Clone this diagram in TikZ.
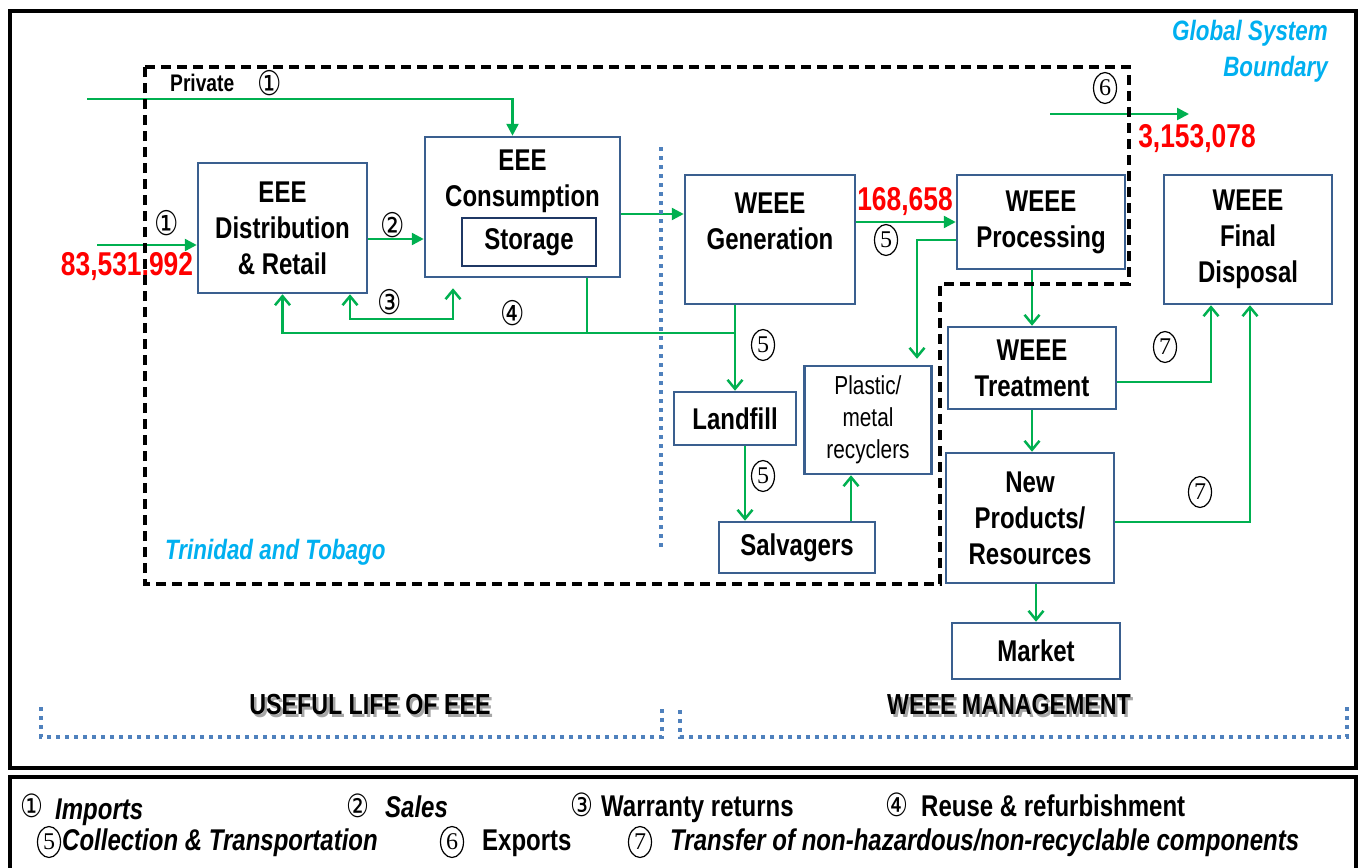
\documentclass[tikz,border=0pt]{standalone}
\usepackage{fontspec}
\setmainfont{Liberation Sans}[FakeStretch=0.8]
\newfontfamily\circfont{DejaVu Sans}[FakeStretch=0.8]
\newfontfamily\serifnum{Liberation Serif}
\usepackage{tikz}
\usetikzlibrary{arrows.meta,shapes.geometric}

\definecolor{boxblue}{HTML}{3A5F8F}
\definecolor{storeblue}{HTML}{1F3864}
\definecolor{flowgreen}{HTML}{00B050}
\definecolor{dotblue}{HTML}{4F81BD}
\definecolor{tagcyan}{HTML}{00B0F0}

\newcommand\stagefont{\fontsize{30}{36}\selectfont\bfseries}
\newcommand\recyfont{\fontsize{26}{32}\selectfont}
\newcommand\legfont{\fontsize{30}{32}\selectfont\bfseries}

\tikzset{
  tri/.tip={Triangle[length=12pt,width=12pt]},
  barb/.tip={Straight Barb[length=9pt,width=15pt,line width=2.5pt]},
  stage/.style={draw=boxblue, line width=2.5pt, fill=white, align=center, font=\stagefont, inner sep=0pt},
  stagetext/.style={align=center, font=\stagefont, inner sep=0pt},
  storebox/.style={draw=storeblue, line width=2pt, fill=white, font=\stagefont, inner sep=0pt},
  greenline/.style={draw=flowgreen, line width=2.5pt},
  flow/.style={greenline, -tri},
  flowopen/.style={greenline, -barb},
  boundary/.style={black, line width=3.5pt, dash pattern=on 10pt off 6pt},
  dotline/.style={dotblue, line width=3.5pt, dash pattern=on 4pt off 5pt},
  amount/.style={text=red, font=\fontsize{33}{36}\selectfont\bfseries, inner sep=0pt},
  circnum/.style={font=\circfont\fontsize{34}{34}\selectfont, inner sep=0pt},
  ovalnum/.style={ellipse, draw, line width=1.2pt, inner sep=0pt, minimum width=23pt, minimum height=31pt, font=\serifnum\fontsize{24}{24}\selectfont},
  region/.style={text=tagcyan, font=\fontsize{28}{36}\selectfont\bfseries\itshape, inner sep=0pt},
  heading/.style={font=\fontsize{29}{30}\selectfont\bfseries, inner sep=0pt},
  legtext/.style={font=\legfont, anchor=west, inner sep=0pt, text height=21pt, text depth=5pt},
  legcirc/.style={font=\circfont\fontsize{32}{32}\selectfont, inner sep=0pt, text height=19pt, text depth=3pt},
}

\begin{document}
\begin{tikzpicture}[x=1pt,y=-1pt]
  \clip (0,0) rectangle (1362,867);
  \fill[white] (0,0) rectangle (1362,867);

  % frames
  \draw[line width=3.5pt] (10,11) rectangle (1356,768);
  \draw[line width=3.5pt] (10,777) rectangle (1356,880);

  % stages
  \node[stage, minimum width=169pt, minimum height=130pt] (dist) at (282.5,228) {EEE\\Distribution\\\& Retail};
  \node[stage, minimum width=195pt, minimum height=140pt] (cons) at (522.5,207) {};
  \node[stagetext] (constext) at (522.5,181) {EEE\\Consumption};
  \node[storebox, minimum width=134pt, minimum height=48pt] (store) at (529,242) {Storage};
  \node[stage, minimum width=170pt, minimum height=129pt] (gen) at (770,239.5) {WEEE\\Generation\\\mbox{}};
  \node[stage, minimum width=168pt, minimum height=94pt] (proc) at (1041,222) {WEEE\\Processing};
  \node[stage, minimum width=168pt, minimum height=129pt] (disp) at (1248,239.5) {WEEE\\Final\\Disposal};
  \node[stage, minimum width=168pt, minimum height=82pt] (treat) at (1032,368) {WEEE\\Treatment};
  \node[stage, minimum width=168pt, minimum height=130pt] (newp) at (1030,518) {New\\Products/\\Resources};
  \node[stage, minimum width=168pt, minimum height=56pt] (market) at (1036,651) {Market};
  \node[stage, minimum width=122pt, minimum height=53pt] (land) at (735,418.5) {Landfill};
  \node[stage, minimum width=156pt, minimum height=51pt] (salv) at (797,547.5) {Salvagers};
  \node[stage, minimum width=127pt, minimum height=108pt, font=\recyfont] (recyc) at (868,420) {Plastic/\\metal\\recyclers};

  % helper points
  \coordinate (impsrc) at (97,245);
  \coordinate (privsrc) at (87,99);
  \coordinate (warrL) at (350,319);
  \coordinate (warrR) at (453,319);
  \coordinate (ctop) at ([yshift=-10pt]cons.south);
  \coordinate (reuseL) at (282.5,333);
  \coordinate (reuseJ) at (587,333);
  \coordinate (reuseR) at (735,333);
  \coordinate (pr7) at (917,240);
  \coordinate (rtop) at ([yshift=6pt]recyc.north);
  \coordinate (tr7) at (1211,382);
  \coordinate (np7) at (1250,522);
  \coordinate (expsrc) at (1050,114);
  \coordinate (expdst) at (1189,114);

  % flows
  \draw[flow] (impsrc) -- (dist.west |- impsrc);
  \draw[flow] (privsrc) -| ([xshift=-10pt]cons.north);
  \draw[flow] ([yshift=-11pt]dist.east) coordinate (sale0) -- (sale0 -| cons.west);
  \draw[flow] ([yshift=-7pt]cons.east) coordinate (use0) -- (use0 -| gen.west);
  \draw[flow] (gen.east |- proc.west) -- (proc.west);
  \draw[greenline, barb-barb] (dist.south -| warrL) -- (warrL) -- (warrR) -- (warrR |- ctop);
  \draw[flowopen] (reuseR) -- (reuseL) -- (dist.south -| reuseL);
  \draw[greenline] (cons.south -| reuseJ) -- (reuseJ);
  \draw[flowopen] (gen.south -| land.north) -- (land.north);
  \draw[flowopen] ([xshift=10pt]land.south) coordinate (ls0) -- (ls0 |- salv.north);
  \draw[flowopen] ([xshift=54pt]salv.north) coordinate (sr0) -- (sr0 |- recyc.south);
  \draw[flowopen] (proc.west |- pr7) -- (pr7) -- (pr7 |- rtop);
  \draw[flowopen] (treat.north |- proc.south) -- (treat.north);
  \draw[flowopen] (treat.south) -- (treat.south |- newp.north);
  \draw[flowopen] (market.north |- newp.south) -- (market.north);
  \draw[flowopen] (treat.east |- tr7) -- (tr7) -- (tr7 |- disp.south);
  \draw[flowopen] (newp.east |- np7) -- (np7) -- (np7 |- disp.south);
  \draw[flow] (expsrc) -- (expdst);

  % flow labels
  \node[font=\fontsize{24}{24}\selectfont\bfseries, anchor=west, inner sep=0pt] (privlbl) at (170,83) {Private};
  \node[circnum] (priv1) at (270,83) {①};
  \node[circnum] (imp1) at (167,223) {①};
  \node[amount] (impval) at (127,267) {83,531,992};
  \node[circnum] (sale2) at (393,225) {②};
  \node[circnum] (warr3) at (390,302) {③};
  \node[circnum] (reuse4) at (513,313) {④};
  \node[amount] (genval) at (905,202) {168,658};
  \node[ovalnum] (coll5a) at (886,240) {5};
  \node[ovalnum] (coll5b) at (763,345) {5};
  \node[ovalnum] (coll5c) at (763,476) {5};
  \node[ovalnum] (exp6) at (1105,88) {6};
  \node[amount] (expval) at (1197,139) {3,153,078};
  \node[ovalnum] (tr7a) at (1165,347) {7};
  \node[ovalnum] (tr7b) at (1200,492) {7};

  % boundaries
  \draw[boundary] (145,67) -- (1129,67) -- (1129,284) -- (940,284) -- (940,584) -- (145,584) -- cycle;
  \draw[dotline] (661,147) -- (661,547);
  \draw[dotline] (41,707) -- (41,737) -- (662,737) -- (662,707);
  \draw[dotline] (680,710) -- (680,737) -- (1347,737) -- (1347,707);
  \node[region, align=right, anchor=east] (global) at (1328,51) {Global System\\Boundary};
  \node[region, anchor=west] (tnt) at (165,552) {Trinidad and Tobago};
  \node[heading, text=black!35] (usefulsh) at (372.5,707.5) {USEFUL LIFE OF EEE};
  \node[heading] (useful) at (370,705) {USEFUL LIFE OF EEE};
  \node[heading, text=black!35] (mgmtsh) at (1011.5,707.5) {WEEE MANAGEMENT};
  \node[heading] (mgmt) at (1009,705) {WEEE MANAGEMENT};

  % legend
  \node[legcirc] (leg1) at (32,809) {①};
  \node[legtext, font=\legfont\itshape] (leg1t) at (55,811) {Imports};
  \node[legcirc] (leg2) at (358,809) {②};
  \node[legtext, font=\legfont\itshape] (leg2t) at (385,809) {Sales};
  \node[legcirc] (leg3) at (582,808) {③};
  \node[legtext] (leg3t) at (601,808) {Warranty returns};
  \node[legcirc] (leg4) at (897,808) {④};
  \node[legtext] (leg4t) at (921,808) {Reuse \& refurbishment};
  \node[ovalnum] (leg5) at (49,842) {5};
  \node[legtext, font=\legfont\itshape] (leg5t) at (62,842) {Collection \& Transportation};
  \node[ovalnum] (leg6) at (452,842) {6};
  \node[legtext] (leg6t) at (482,842) {Exports};
  \node[ovalnum] (leg7) at (640,842) {7};
  \node[legtext, font=\legfont\itshape] (leg7t) at (670,842) {Transfer of non-hazardous/non-recyclable components};
\end{tikzpicture}
\end{document}
